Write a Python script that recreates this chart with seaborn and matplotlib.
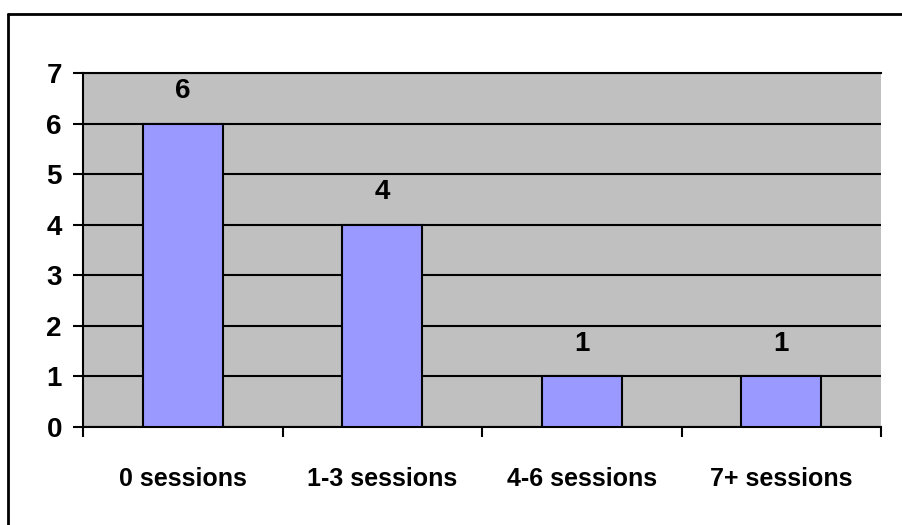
import matplotlib
matplotlib.use("Agg")
import matplotlib.pyplot as plt
from matplotlib.lines import Line2D
import seaborn as sns
import pandas as pd

categories = ["0 sessions", "1-3 sessions", "4-6 sessions", "7+ sessions"]
counts = [6, 4, 1, 1]
y_ticks = [0, 1, 2, 3, 4, 5, 6, 7]

sns.set_style("white")
plt.rcParams["font.family"] = ["Liberation Sans", "DejaVu Sans"]
plt.rcParams["font.weight"] = "bold"
plt.rcParams["text.color"] = "black"
plt.rcParams["xtick.color"] = "black"
plt.rcParams["ytick.color"] = "black"
plt.rcParams["xtick.labelcolor"] = "black"
plt.rcParams["ytick.labelcolor"] = "black"

W, H = 902, 525
fig = plt.figure(figsize=(W / 100, H / 100), dpi=100)
ax = fig.add_axes([83 / W, (H - 427) / H, (881 - 83) / W, (427 - 73) / H])

df = pd.DataFrame({"category": categories, "count": counts})
sns.barplot(data=df, x="category", y="count", ax=ax, color="#9999FF",
            saturation=1, width=0.4, edgecolor="black", linewidth=1.5, zorder=3)

ax.set_facecolor("#C0C0C0")
ax.set_xlim(-0.5, len(categories) - 0.5)
ax.set_ylim(0, 7)
ax.set_yticks(y_ticks)
ax.yaxis.grid(True, color="black", linewidth=1.5, zorder=1)
ax.set_axisbelow(True)
ax.set_xlabel("")
ax.set_ylabel("")

for side in ["left", "bottom", "top"]:
    ax.spines[side].set_visible(True)
    ax.spines[side].set_color("black")
    ax.spines[side].set_linewidth(1.5)
ax.spines["right"].set_visible(False)

# category labels centred under bars, tick marks on the boundaries
ax.set_xticks(range(len(categories)))
ax.set_xticklabels(categories, fontsize=18, fontweight="bold", color="black")
ax.tick_params(axis="x", which="major", bottom=True, length=0, pad=29)
ax.set_xticks([i - 0.5 for i in range(len(categories) + 1)], minor=True)
ax.tick_params(axis="x", which="minor", bottom=True, length=7.2, width=1.5,
               direction="out", color="black")
ax.tick_params(axis="y", left=True, length=7.2, width=1.5, direction="out", color="black",
               pad=8, labelsize=20, labelcolor="black")
for lbl in ax.get_yticklabels():
    lbl.set_fontweight("bold")

for i, v in enumerate(counts):
    ax.annotate(str(v), (i, v), xytext=(0, 14), textcoords="offset points",
                ha="center", va="bottom", fontsize=20, fontweight="bold", color="black")

# outer chart frame
fig.add_artist(Line2D([8 / W, 1.0], [1 - 14 / H, 1 - 14 / H], color="black", linewidth=2,
                      transform=fig.transFigure))
fig.add_artist(Line2D([8 / W, 8 / W], [0.0, 1 - 14 / H], color="black", linewidth=2,
                      transform=fig.transFigure))

fig.savefig("out.png", dpi=100)
